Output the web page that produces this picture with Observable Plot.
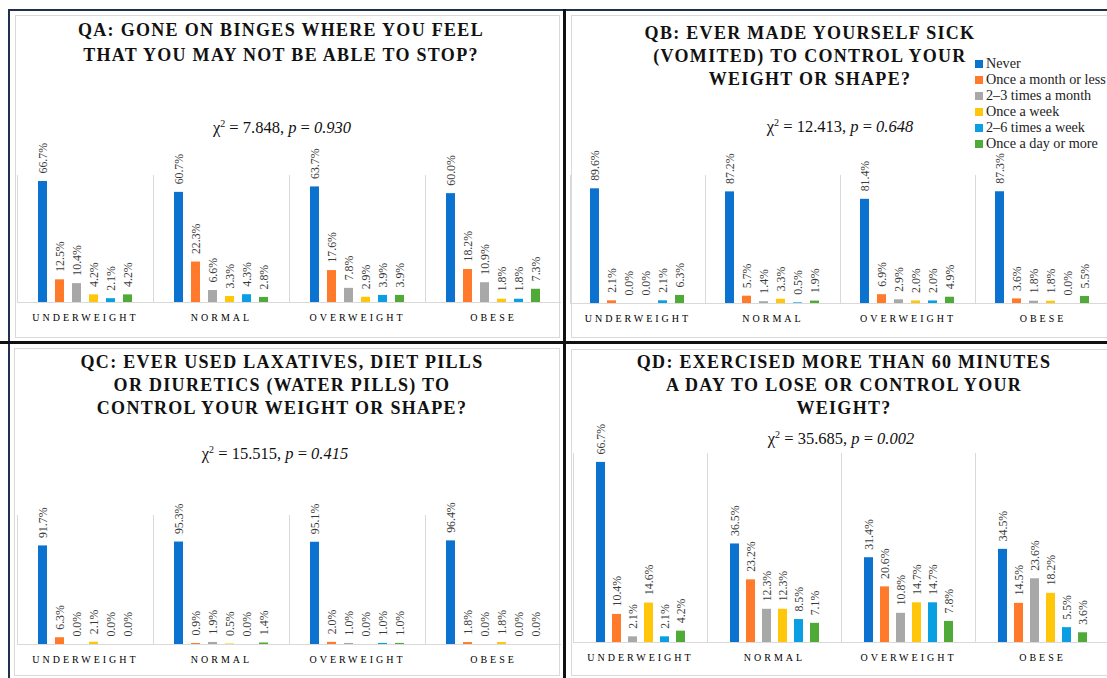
<!DOCTYPE html>
<html><head><meta charset="utf-8">
<script src="https://cdn.jsdelivr.net/npm/d3@7"></script>
<script src="https://cdn.jsdelivr.net/npm/@observablehq/plot@0.6"></script>
<style>
body{margin:0;background:#fff;}
#root{position:relative;width:1107px;height:678px;overflow:hidden;background:#fff;font-family:"Liberation Serif",serif;}
.line{position:absolute;}
.box{position:absolute;border:1px solid #d9d9d9;box-sizing:border-box;}
.title{position:absolute;width:640px;text-align:center;font-weight:bold;font-size:18px;letter-spacing:1.3px;color:#111;white-space:nowrap;}
.chi{position:absolute;width:300px;text-align:center;font-size:16.5px;line-height:20px;color:#111;white-space:nowrap;}
.chi sup{font-size:10px;line-height:0;}
.plotwrap{position:absolute;}
.plotwrap svg{overflow:visible;max-width:none !important;}
.plotwrap [aria-label*="fx-axis"] text{letter-spacing:3px;}
.legend{position:absolute;left:975px;top:55px;font-size:14.2px;line-height:16px;color:#222;white-space:nowrap;}
.legend .sw{display:inline-block;width:8px;height:8px;margin-right:3px;}
</style></head>
<body>
<div id="root"></div>
<script>
const groups = ["UNDERWEIGHT","NORMAL","OVERWEIGHT","OBESE"];
const series = ["Never","Once a month or less","2\u20133 times a month","Once a week","2\u20136 times a week","Once a day or more"];
const colors = ["#0B73CF","#FF7B2B","#A8A8A8","#FFC60A","#0A9FE3","#50AA37"];

const qaValues = [[66.7,12.5,10.4,4.2,2.1,4.2],[60.7,22.3,6.6,3.3,4.3,2.8],[63.7,17.6,7.8,2.9,3.9,3.9],[60.0,18.2,10.9,1.8,1.8,7.3]];
const qbValues = [[89.6,2.1,0.0,0.0,2.1,6.3],[87.2,5.7,1.4,3.3,0.5,1.9],[81.4,6.9,2.9,2.0,2.0,4.9],[87.3,3.6,1.8,1.8,0.0,5.5]];
const qcValues = [[91.7,6.3,0.0,2.1,0.0,0.0],[95.3,0.9,1.9,0.5,0.0,1.4],[95.1,2.0,1.0,0.0,1.0,1.0],[96.4,1.8,0.0,1.8,0.0,0.0]];
const qdValues = [[66.7,10.4,2.1,14.6,2.1,4.2],[36.5,23.2,12.3,12.3,8.5,7.1],[31.4,20.6,10.8,14.7,14.7,7.8],[34.5,14.5,23.6,18.2,5.5,3.6]];

const qaTitle = ["QA: GONE ON BINGES WHERE YOU FEEL","THAT YOU MAY NOT BE ABLE TO STOP?"];
const qbTitle = ["QB: EVER MADE YOURSELF SICK","(VOMITED) TO CONTROL YOUR","WEIGHT OR SHAPE?"];
const qcTitle = ["QC: EVER USED LAXATIVES, DIET PILLS","OR DIURETICS (WATER PILLS) TO","CONTROL YOUR WEIGHT OR SHAPE?"];
const qdTitle = ["QD: EXERCISED MORE THAN 60 MINUTES","A DAY TO LOSE OR CONTROL YOUR","WEIGHT?"];

const qaChi = ["7.848","0.930"];
const qbChi = ["12.413","0.648"];
const qcChi = ["15.515","0.415"];
const qdChi = ["35.685","0.002"];

const root = document.getElementById("root");
function el(cls, css, html){
  const d = document.createElement("div");
  d.className = cls;
  Object.assign(d.style, css);
  if (html != null) d.innerHTML = html;
  root.appendChild(d);
  return d;
}

// frames
el("box", {left:"15px", top:"15px", width:"545px", height:"323px"});
el("box", {left:"571px", top:"15px", width:"560px", height:"323px"});
el("box", {left:"14px", top:"348px", width:"546px", height:"328px"});
el("box", {left:"571px", top:"349px", width:"560px", height:"327px"});
el("line", {left:"9px", top:"9px", width:"1100px", height:"2px", background:"#22304f"});
el("line", {left:"8px", top:"9px", width:"2px", height:"670px", background:"#22304f"});
el("line", {left:"563px", top:"9px", width:"3px", height:"670px", background:"#111"});
el("line", {left:"0px", top:"341px", width:"1107px", height:"3px", background:"#111"});

function makePlot(values, yMax, width, innerH) {
  const data = [];
  groups.forEach((g, i) => series.forEach((s, j) => data.push({group: g, series: s, value: values[i][j]})));
  return Plot.plot({
    width, height: 45 + innerH + 30,
    marginTop: 45, marginBottom: 30, marginLeft: 0, marginRight: 0,
    style: {fontFamily: "Liberation Serif, serif", background: "transparent", overflow: "visible"},
    fx: {domain: groups, padding: 0, label: null, axis: "bottom", tickSize: 0, tickPadding: 11, fontSize: 12},
    x: {domain: series, axis: null, paddingInner: 0.45, paddingOuter: 1.18},
    y: {domain: [0, yMax], axis: null},
    color: {domain: series, range: colors},
    marks: [
      Plot.frame({anchor: "left", stroke: "#d9d9d9"}),
      Plot.barY(data, {fx: "group", x: "series", y: "value", fill: "series"}),
      Plot.text(data, {fx: "group", x: "series", y: "value", text: d => d.value.toFixed(1) + "%",
        rotate: -90, textAnchor: "start", dy: -8, fontSize: 11.8, fill: "#3a3a3a"}),
      Plot.ruleY([0], {stroke: "#d9d9d9"})
    ]
  });
}

function panel(title, lineH, titleTop, cx, chi, chiCx, chiCy, values, yMax, left, top, width, innerH) {
  el("title", {left: (cx - 320) + "px", top: titleTop + "px", lineHeight: lineH + "px"}, title.join("<br>"));
  el("chi", {left: (chiCx - 150) + "px", top: (chiCy - 10) + "px"},
    "\u03C7<sup>2</sup> = " + chi[0] + ", <i>p</i> = <i>" + chi[1] + "</i>");
  const w = el("plotwrap", {left: left + "px", top: top + "px", width: width + "px"});
  w.appendChild(makePlot(values, yMax, width, innerH));
}

panel(qaTitle, 25, 17.5, 281, qaChi, 282, 128, qaValues, 70, 15, 130, 547, 127);
panel(qbTitle, 23, 21.5, 810, qbChi, 840, 127, qbValues, 100, 569, 130, 541, 128);
panel(qcTitle, 23, 351, 282, qcChi, 275, 454, qcValues, 120, 15, 470, 547, 129);
panel(qdTitle, 23, 351, 844, qdChi, 841, 439, qdValues, 70, 571.5, 408, 538, 189);

// legend
const lg = el("legend", {});
lg.innerHTML = series.map((s, i) => `<div><span class="sw" style="background:${colors[i]}"></span>${s}</div>`).join("");
</script>
</body></html>
